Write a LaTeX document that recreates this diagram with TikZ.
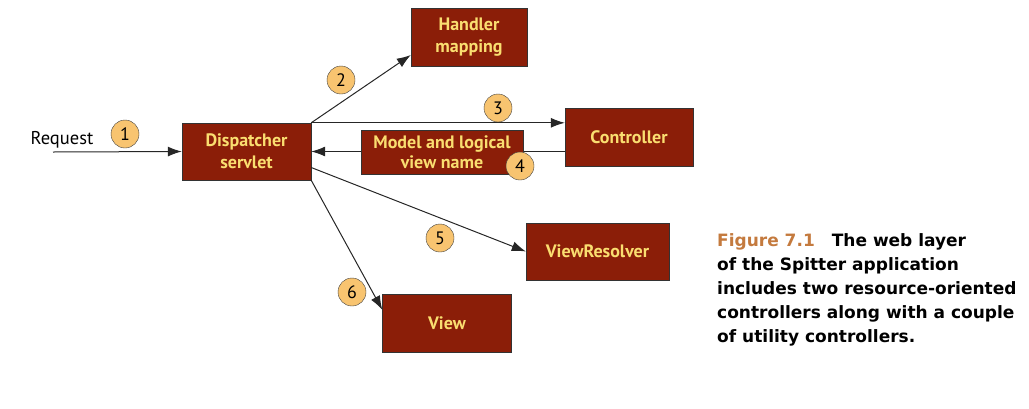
\documentclass[tikz,border=0pt]{standalone}
\usepackage{fontspec}
\setmainfont{PT Sans}
\newfontfamily\capfont{DejaVu Sans}
\usetikzlibrary{arrows.meta}

\definecolor{boxred}{RGB}{139,30,8}
\definecolor{boxtext}{RGB}{250,222,112}
\definecolor{stepfill}{RGB}{248,196,112}
\definecolor{figorange}{RGB}{196,122,62}

\begin{document}
\begin{tikzpicture}[x=1pt,y=-1pt,
    comp/.style={draw=black!80,fill=boxred,text=boxtext,inner sep=0pt,align=center,
      minimum height=57pt,font=\bfseries\fontsize{18}{22}\selectfont},
    num/.style={circle,draw=black!75,fill=stepfill,inner sep=0pt,minimum size=28pt,
      font=\fontsize{18}{18}\selectfont},
    flow/.style={-{Latex[length=14pt,width=10pt]},line width=1pt,black!85}]
    \useasboundingbox (0,0) rectangle (1029,408);
    % components
    \node[comp,minimum width=129pt] (disp) at (246.5,151.5) {Dispatcher\\servlet};
    \node[comp,minimum width=116pt,minimum height=58pt] (hmap) at (469,37) {Handler\\mapping};
    \node[comp,minimum width=128pt,minimum height=58pt] (ctrl) at (629,137) {Controller};
    \node[comp,minimum width=143pt] (vres) at (597.5,251.5) {ViewResolver};
    \node[comp,minimum width=129pt,minimum height=58pt] (view) at (447,323) {View};
    % request
    \coordinate (req) at (53,152);
    \node[font=\fontsize{18.5}{18.5}\selectfont] (reqtext) at (62,140) {Request};
    \draw[flow] (req) -- (disp.west);
    % flows out of the dispatcher
    \draw[flow] (disp.north east) -- ([yshift=-18pt]hmap.west);
    \draw[flow] (disp.north east) -- (ctrl.west |- disp.north east);
    \draw[flow] (ctrl.west |- disp.east) -- (disp.east);
    \draw[flow] ([yshift=-16pt]disp.east) -- (vres.west);
    \draw[flow] (disp.south east) -- ([yshift=-16pt]view.north west);
    \node[comp,minimum width=162pt,minimum height=44pt,font=\bfseries\fontsize{18}{20}\selectfont] (model) at (442,152) {Model and logical\\view name};
    % step numbers
    \foreach \n/\x/\y in {1/125/134,2/341/80,3/498/108,4/520/166,5/440/238,6/352/292}
      \node[num] (n\n) at (\x,\y) {\n};
    % caption
    \node[anchor=north west,inner sep=0pt,align=left,font=\capfont\bfseries\fontsize{17}{24}\selectfont]
      (caption) at (717,233) {{\color{figorange}Figure 7.1}\quad The web layer\\of the Spitter application\\includes two resource-oriented\\controllers along with a couple\\of utility controllers.};
\end{tikzpicture}
\end{document}
